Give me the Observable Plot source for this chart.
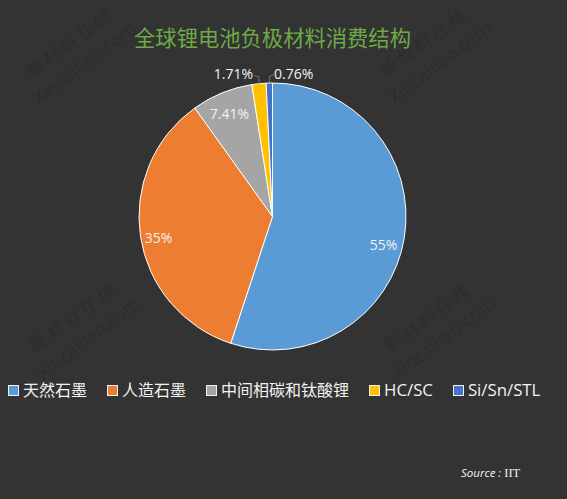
<!DOCTYPE html>
<html lang="zh">
<head>
<meta charset="utf-8">
<script src="https://cdn.jsdelivr.net/npm/d3@7"></script>
<script src="https://cdn.jsdelivr.net/npm/@observablehq/plot@0.6"></script>
<style>
  html, body { margin: 0; padding: 0; background: #333333; overflow: hidden; }
  #stage { position: relative; width: 567px; height: 499px; background: #333333;
    font-family: "Open Sans", "Noto Sans CJK SC", sans-serif; }
  #stage svg { position: absolute; left: 0; top: 0; background: transparent; }
  #title { position: absolute; left: 0; width: 545px; top: 22px; text-align: center; font-size: 21.3px;
    line-height: 30px; color: #6DAA45; font-family: "Noto Sans CJK SC", sans-serif; white-space: nowrap; }
  #legend { position: absolute; left: 8px; top: 378px; display: flex; color: #F2F2F2; font-size: 16px; line-height: 24px; white-space: nowrap; }
  #legend .item { display: flex; align-items: center; margin-right: 20px; }
  #legend .sw { width: 9px; height: 9px; border: 1px solid #f2f2f2; margin-right: 4px; flex: none; }
  #legend .latin { font-size: 16.8px; }
  #source { position: absolute; left: 461px; top: 465px; font-size: 11.5px; line-height: 16px; color: #F2F2F2; white-space: nowrap; }
  #source i { font-family: "Open Sans", sans-serif; font-weight: 400; }
  #source span { font-family: "Liberation Serif", serif; font-size: 12.5px; }
</style>
</head>
<body>
<div id="stage">
  <div id="title"></div>
  <div id="legend"></div>
  <div id="source"></div>
</div>
<script>
const titleText = "全球锂电池负极材料消费结构";
const sourceLabel = "Source : ";
const sourceName = "IIT";
const categories = ["天然石墨", "人造石墨", "中间相碳和钛酸锂", "HC/SC", "Si/Sn/STL"];
const values = [55, 35, 7.41, 1.71, 0.76];
const valueLabels = ["55%", "35%", "7.41%", "1.71%", "0.76%"];
const colors = ["#5B9BD5", "#ED7D31", "#A5A5A5", "#FFC000", "#4472C4"];
const watermarkCn = "新材料在线";
const watermarkEn = "Xincailiao.com";

// Layout constants of the labels, relative to each slice's middle angle
const labelRadius = [0.855, 0.873, 0.834, 1.108, 1.079];
const labelTurn = [5.4, -1.9, -0.8, -9.7, 9.6];
const leaderSlices = [[3, -1], [4, 1]];

const cx = 272.5, cy = 216.5, R = 133.5, W = 567, H = 499;
const arcs = d3.pie().value(d => d).sort(null)(values);
const slices = categories.map((name, i) => ({
  name, value: values[i], label: valueLabels[i],
  start: arcs[i].startAngle, end: arcs[i].endAngle, mid: (arcs[i].startAngle + arcs[i].endAngle) / 2
}));
const polar = (a, r) => [Math.sin(a) * r, -Math.cos(a) * r];
const labels = slices.map((s, i) => {
  const [x, y] = polar(s.mid + labelTurn[i] * Math.PI / 180, labelRadius[i]);
  return {x, y, label: s.label};
});
const leaders = leaderSlices.flatMap(([i, side]) => {
  const a = slices[i].mid;
  const [x0, y0] = polar(a, 1);
  const [x1, y1] = polar(a, 1.055);
  return [
    {z: i, x: x0, y: y0},
    {z: i, x: x1, y: y1},
    {z: i, x: x1 + side * 0.03, y: y1 - 0.01}
  ];
});

const wmStyle = {frameAnchor: "top-left", fill: "#2D2D2D", textAnchor: "middle", stroke: "none"};
const wmTiles = [[0, 0], [355, 0], [4, 275], [359, 275]];
const wmMarks = wmTiles.flatMap(([ox, oy]) => [
  Plot.text([watermarkCn.split("").join(" ")], {...wmStyle, text: d => d, dx: 64 + ox, dy: 38 + oy, rotate: -36,
    fontSize: 17, fontFamily: "Noto Sans CJK SC, sans-serif"}),
  Plot.text([watermarkEn], {...wmStyle, text: d => d, dx: 80 + ox, dy: 57 + oy, rotate: -37,
    fontSize: 18.5, fontFamily: "Open Sans, sans-serif"})
]);

const chart = Plot.plot({
  width: W, height: H, margin: 0,
  style: {background: "transparent"},
  x: {domain: [-1, 1], range: [cx - R, cx + R], axis: null},
  y: {domain: [-1, 1], range: [cy - R, cy + R], axis: null},
  color: {domain: categories, range: colors},
  marks: [
    ...wmMarks,
    Plot.dot(slices, {
      x: () => 0, y: () => 0, fill: "name",
      render(index, scales, values, dimensions, context) {
        const g = d3.select(context.document.createElementNS("http://www.w3.org/2000/svg", "g"));
        const ox = scales.x(0), oy = scales.y(0), r = scales.x(1) - scales.x(0);
        const arc = d3.arc().innerRadius(0).outerRadius(r);
        g.attr("transform", `translate(${ox},${oy})`)
          .selectAll("path").data(Array.from(index)).join("path")
          .attr("d", i => arc({startAngle: slices[i].start, endAngle: slices[i].end}))
          .attr("fill", i => values.fill[i])
          .attr("stroke", "#FFFFFF").attr("stroke-width", 1);
        return g.node();
      }
    }),
    Plot.line(leaders, {x: "x", y: "y", z: "z", stroke: "#8C8C8C", strokeWidth: 0.75, curve: "linear"}),
    Plot.text(labels, {x: "x", y: "y", text: "label", fill: "#F2F2F2", fontSize: 14,
      fontFamily: "Open Sans, sans-serif", textAnchor: "middle", lineAnchor: "middle"})
  ]
});

const stage = document.getElementById("stage");
stage.insertBefore(chart, stage.firstChild);
document.getElementById("title").textContent = titleText;
const legend = document.getElementById("legend");
categories.forEach((c, i) => {
  const item = document.createElement("div"); item.className = "item";
  const sw = document.createElement("div"); sw.className = "sw"; sw.style.background = colors[i];
  const t = document.createElement("span"); t.textContent = c;
  if (/^[\x00-\x7F]+$/.test(c)) t.className = "latin";
  item.append(sw, t); legend.append(item);
});
const src = document.getElementById("source");
const it = document.createElement("i"); it.textContent = sourceLabel;
const sp = document.createElement("span"); sp.textContent = sourceName;
src.append(it, sp);
</script>
</body>
</html>
